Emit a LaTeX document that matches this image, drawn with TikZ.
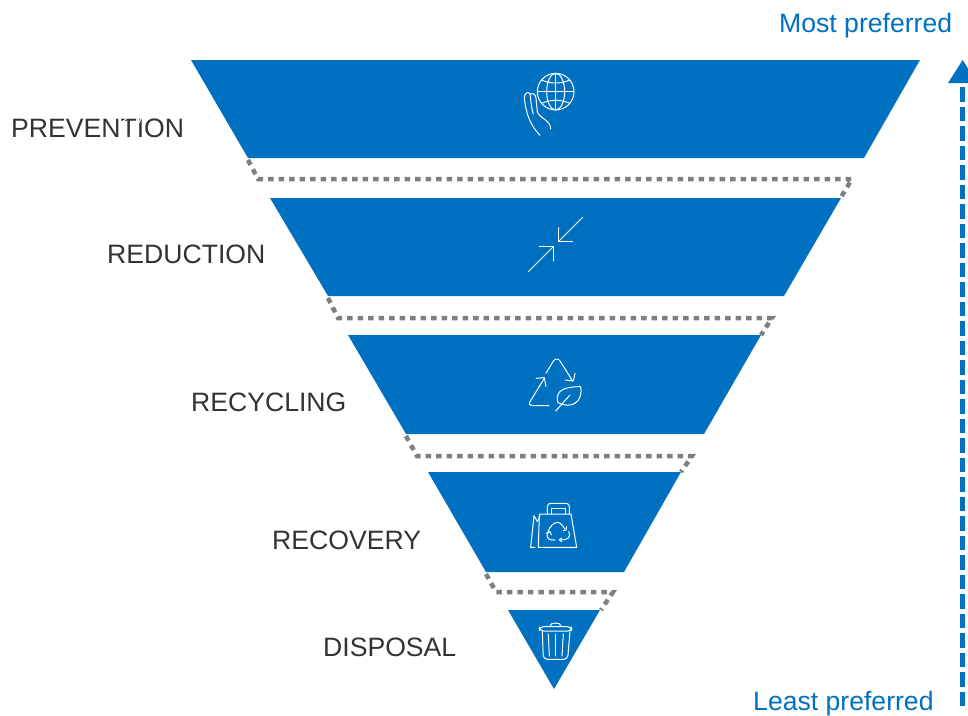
\documentclass[tikz,border=0pt]{standalone}
\usepackage{fontspec}
\setmainfont{Liberation Sans}
\definecolor{blu}{HTML}{0070C0}
\definecolor{dots}{HTML}{7F7F7F}
\definecolor{txt}{HTML}{333333}
\tikzset{
 tier/.style={fill=blu,draw=none},
 lvl/.style={anchor=base west,inner sep=0pt,text=txt,font=\fontsize{26.6}{30}\selectfont},
 pref/.style={anchor=base west,inner sep=0pt,text=blu,font=\fontsize{26.6}{30}\selectfont},
 guide/.style={draw=dots,line width=4.5pt,dash pattern=on 5.5pt off 5pt},
 ico/.style={draw=white,line width=1.0pt,line cap=round,line join=round},
 zoomed/.style={x=0.3333pt,y=-0.3333pt},
}
\begin{document}
\begin{tikzpicture}[x=1pt,y=-1pt]
\useasboundingbox (0,0) rectangle (968,715);
\fill[tier] (191,60) -- (920,60) -- (864,158) -- (248,158) -- cycle;
\fill[tier] (270,198) -- (841,198) -- (784,296) -- (328,296) -- cycle;
\fill[tier] (348,335) -- (761,335) -- (704,434) -- (406,434) -- cycle;
\fill[tier] (428,472) -- (681,472) -- (624,572) -- (486,572) -- cycle;
\fill[tier] (508,610) -- (600,610) -- (554,689) -- cycle;
% guides
\coordinate (a1) at (248,160); \coordinate (a2) at (258,179); \coordinate (a3) at (852,179); \coordinate (a4) at (841,197);
\coordinate (b1) at (328,298); \coordinate (b2) at (338,318); \coordinate (b3) at (772,318); \coordinate (b4) at (761,335);
\coordinate (c1) at (406,436); \coordinate (c2) at (417,456); \coordinate (c3) at (692,456); \coordinate (c4) at (681,472);
\coordinate (d1) at (486,574); \coordinate (d2) at (496,592); \coordinate (d3) at (613,592); \coordinate (d4) at (601,610);
\draw[guide] (a1) -- (a2) -- (a3) -- (a4);
\draw[guide] (b1) -- (b2) -- (b3) -- (b4);
\draw[guide] (c1) -- (c2) -- (c3) -- (c4);
\draw[guide] (d1) -- (d2) -- (d3) -- (d4);
% arrow
\coordinate (arrS) at (962.7,706);
\coordinate (arrE) at (962.7,83);
\draw[blu,line width=5.5pt,dash pattern=on 14.5pt off 5pt] (arrS) -- (arrE);
\fill[blu] (962.7,60) -- (977,83) -- (948,83) -- cycle;
% labels
\node[lvl] (prev) at (11,137) {PREVENTION};
\node[lvl] (redu) at (107,263) {REDUCTION};
\node[lvl] (recy) at (191,411) {RECYCLING};
\node[lvl] (reco) at (272,549) {RECOVERY};
\node[lvl] (disp) at (323,656) {DISPOSAL};
\node[pref] (most) at (779,32) {Most preferred};
\node[pref] (least) at (753,710) {Least preferred};
% icon 1
\begin{scope}[shift={(500,60)},zoomed,ico]
 \draw (167,95) circle (55);
 \draw (167,95) ellipse (27 and 55);
 \draw (167,40) -- (167,150);
 \draw (112,95) -- (222,95);
 \draw (125,60) .. controls (150,72) and (184,72) .. (209,60);
 \draw (125,130) .. controls (150,118) and (184,118) .. (209,130);
 \foreach \s/\o in {1/0,-1/330}{
 \begin{scope}[xscale=\s,xshift=\o]
  \draw (120,226) .. controls (90,195) and (78,160) .. (73,115) .. controls (72,100) and (85,92) .. (90,102) .. controls (93,125) and (95,150) .. (100,162);
  \draw (92,102) .. controls (100,98) and (108,105) .. (108,115) -- (112,155) .. controls (118,175) and (152,180) .. (152,207);
 \end{scope}}
\end{scope}
% icon 2
\begin{scope}[shift={(510,205)},zoomed,ico]
 \draw (218,37) -- (145,110);
 \draw (145,68) -- (145,110) -- (187,110);
 \draw (55,200) -- (130,125);
 \draw (87,125) -- (130,125) -- (130,168);
\end{scope}
% icon 3
\begin{scope}[shift={(510,345)},zoomed,ico]
 \draw (108,85) -- (130,48) .. controls (136,40) and (145,40) .. (150,48) -- (188,108);
 \draw (165,105) -- (190,108) -- (195,85);
 \draw (103,100) -- (60,170) .. controls (55,178) and (60,182) .. (68,182) -- (117,182);
 \draw (78,100) -- (103,98) -- (108,125);
 \draw (212,125) .. controls (165,125) and (135,135) .. (143,172) .. controls (185,195) and (220,170) .. (212,125) -- cycle;
 \draw (137,198) -- (180,150);
\end{scope}
% icon 4
\begin{scope}[shift={(510,490)},zoomed,ico]
 \draw (88,72) -- (183,72) -- (200,172) -- (85,172) -- cycle;
 \draw (112,72) -- (112,50) .. controls (112,43) and (117,40) .. (122,40) -- (168,40) .. controls (175,40) and (178,44) .. (178,50) -- (178,72);
 \draw (125,72) -- (125,55) -- (165,55) -- (165,72);
 \draw (75,172) -- (62,172) -- (72,77) -- (82,95) -- (90,77);
 \draw (112,135) .. controls (112,120) and (125,105) .. (132,100);
 \draw (133,100) .. controls (145,92) and (155,100) .. (165,118);
 \draw (160,122) -- (168,120) -- (170,110);
 \draw (176,125) .. controls (185,145) and (170,150) .. (150,150);
 \draw (155,144) -- (148,150) -- (155,155);
 \draw (135,150) .. controls (120,152) and (110,145) .. (111,135);
 \draw (109,130) -- (120,125) -- (124,135);
\end{scope}
% icon 5
\begin{scope}[shift={(480,580)},zoomed,ico]
 \draw[rounded corners=4pt] (178,140) rectangle (275,153);
 \draw (210,138) .. controls (210,126) and (243,126) .. (243,138);
 \draw[rounded corners=4pt] (187,153) -- (190,238) -- (263,238) -- (270,153);
 \draw (205,162) -- (208,228);
 \draw (227,162) -- (227,228);
 \draw (250,162) -- (246,228);
\end{scope}
\end{tikzpicture}
\end{document}
